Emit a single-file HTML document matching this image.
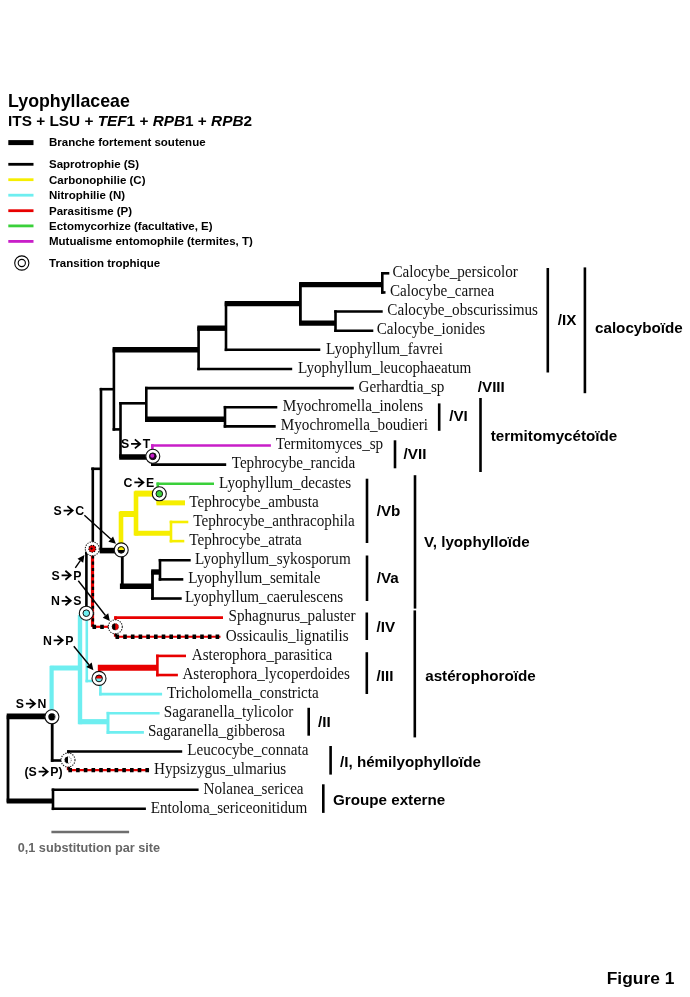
<!DOCTYPE html>
<html><head><meta charset="utf-8"><title>Lyophyllaceae</title>
<style>html,body{margin:0;padding:0;background:#fff;} svg{display:block;}</style></head>
<body><svg style="will-change:transform" width="690" height="997" viewBox="0 0 690 997" shape-rendering="auto">
<rect width="690" height="997" fill="#fff"/>
<line x1="8.3" y1="142.6" x2="33.5" y2="142.6" stroke="#000" stroke-width="5"/>
<line x1="8.3" y1="164.3" x2="33.5" y2="164.3" stroke="#000" stroke-width="2.8"/>
<line x1="8.3" y1="179.7" x2="33.5" y2="179.7" stroke="#f6ee00" stroke-width="2.8"/>
<line x1="8.3" y1="195.2" x2="33.5" y2="195.2" stroke="#6eeef0" stroke-width="2.8"/>
<line x1="8.3" y1="210.7" x2="33.5" y2="210.7" stroke="#e80000" stroke-width="2.8"/>
<line x1="8.3" y1="225.9" x2="33.5" y2="225.9" stroke="#3ad03a" stroke-width="2.8"/>
<line x1="8.3" y1="241.4" x2="33.5" y2="241.4" stroke="#c81ec8" stroke-width="2.8"/>
<circle cx="21.8" cy="263" r="7.1" fill="#fff" stroke="#000" stroke-width="1.1"/>
<circle cx="21.8" cy="263" r="3.6" fill="#fff" stroke="#000" stroke-width="1.1"/>
<line x1="382.3" y1="273.3" x2="382.3" y2="292.43" stroke="#000" stroke-width="2.6" stroke-linecap="square"/>
<line x1="381.0" y1="273.3" x2="389.3" y2="273.3" stroke="#000" stroke-width="2.6"/>
<line x1="381.0" y1="292.43" x2="385.5" y2="292.43" stroke="#000" stroke-width="2.6"/>
<line x1="299.09999999999997" y1="284.6" x2="382.3" y2="284.6" stroke="#000" stroke-width="5.4"/>
<line x1="300.4" y1="284.6" x2="300.4" y2="323.1" stroke="#000" stroke-width="2.8" stroke-linecap="square"/>
<line x1="299.09999999999997" y1="323.1" x2="335.5" y2="323.1" stroke="#000" stroke-width="5.4"/>
<line x1="335.5" y1="311.56" x2="335.5" y2="330.69" stroke="#000" stroke-width="2.6" stroke-linecap="square"/>
<line x1="334.2" y1="311.56" x2="382.7" y2="311.56" stroke="#000" stroke-width="2.6"/>
<line x1="334.2" y1="330.69" x2="373.3" y2="330.69" stroke="#000" stroke-width="2.6"/>
<line x1="224.7" y1="303.6" x2="300.4" y2="303.6" stroke="#000" stroke-width="5.4"/>
<line x1="226" y1="303.6" x2="226" y2="349.82" stroke="#000" stroke-width="2.6" stroke-linecap="square"/>
<line x1="224.7" y1="349.82" x2="320.3" y2="349.82" stroke="#000" stroke-width="2.6"/>
<line x1="197.29999999999998" y1="328.2" x2="226" y2="328.2" stroke="#000" stroke-width="5.4"/>
<line x1="198.6" y1="328.2" x2="198.6" y2="368.95" stroke="#000" stroke-width="2.6" stroke-linecap="square"/>
<line x1="197.29999999999998" y1="368.95" x2="292.2" y2="368.95" stroke="#000" stroke-width="2.6"/>
<line x1="112.60000000000001" y1="349.8" x2="198.6" y2="349.8" stroke="#000" stroke-width="5.4"/>
<line x1="113.9" y1="349.8" x2="113.9" y2="429.4" stroke="#000" stroke-width="2.6" stroke-linecap="square"/>
<line x1="112.60000000000001" y1="429.4" x2="120.5" y2="429.4" stroke="#000" stroke-width="2.6"/>
<line x1="120.5" y1="403.3" x2="120.5" y2="456.7" stroke="#000" stroke-width="2.6" stroke-linecap="square"/>
<line x1="119.2" y1="403.3" x2="146.3" y2="403.3" stroke="#000" stroke-width="2.6"/>
<line x1="146.3" y1="388.08" x2="146.3" y2="419.2" stroke="#000" stroke-width="2.6" stroke-linecap="square"/>
<line x1="145.0" y1="388.08" x2="353.8" y2="388.08" stroke="#000" stroke-width="2.6"/>
<line x1="145.0" y1="419.2" x2="225" y2="419.2" stroke="#000" stroke-width="5.4"/>
<line x1="225" y1="407.21" x2="225" y2="426.34" stroke="#000" stroke-width="2.6" stroke-linecap="square"/>
<line x1="223.7" y1="407.21" x2="277.3" y2="407.21" stroke="#000" stroke-width="2.6"/>
<line x1="223.7" y1="426.34" x2="275.7" y2="426.34" stroke="#000" stroke-width="2.6"/>
<line x1="119.2" y1="457" x2="152.4" y2="457" stroke="#000" stroke-width="5.4"/>
<line x1="152.4" y1="445.47" x2="152.4" y2="456" stroke="#c81ec8" stroke-width="2.6" stroke-linecap="square"/>
<line x1="152.4" y1="456" x2="152.4" y2="464.6" stroke="#000" stroke-width="2.6" stroke-linecap="square"/>
<line x1="151.1" y1="445.47" x2="270.9" y2="445.47" stroke="#c81ec8" stroke-width="2.6"/>
<line x1="151.1" y1="464.6" x2="226.2" y2="464.6" stroke="#000" stroke-width="2.6"/>
<line x1="99.7" y1="389.2" x2="113.9" y2="389.2" stroke="#000" stroke-width="2.6"/>
<line x1="101" y1="389.2" x2="101" y2="550.6" stroke="#000" stroke-width="2.6" stroke-linecap="square"/>
<line x1="99.7" y1="550.6" x2="121.2" y2="550.6" stroke="#000" stroke-width="5.6"/>
<line x1="121" y1="514" x2="121" y2="550" stroke="#f6ee00" stroke-width="4.6" stroke-linecap="square"/>
<line x1="119.7" y1="514" x2="136" y2="514" stroke="#f6ee00" stroke-width="6"/>
<line x1="136" y1="493.6" x2="136" y2="533.2" stroke="#f6ee00" stroke-width="4.6" stroke-linecap="square"/>
<line x1="134.7" y1="493.6" x2="159.3" y2="493.6" stroke="#f6ee00" stroke-width="6"/>
<line x1="134.7" y1="533.2" x2="171" y2="533.2" stroke="#f6ee00" stroke-width="5"/>
<line x1="171" y1="521.99" x2="171" y2="541.12" stroke="#f6ee00" stroke-width="2.6" stroke-linecap="square"/>
<line x1="169.7" y1="521.99" x2="188.3" y2="521.99" stroke="#f6ee00" stroke-width="2.6"/>
<line x1="169.7" y1="541.12" x2="184.3" y2="541.12" stroke="#f6ee00" stroke-width="2.6"/>
<line x1="157.8" y1="483.73" x2="157.8" y2="494" stroke="#3ad03a" stroke-width="2.6" stroke-linecap="square"/>
<line x1="156.5" y1="483.73" x2="214" y2="483.73" stroke="#3ad03a" stroke-width="2.6"/>
<line x1="157.8" y1="494" x2="157.8" y2="502.86" stroke="#f6ee00" stroke-width="2.6" stroke-linecap="square"/>
<line x1="156.5" y1="502.86" x2="185" y2="502.86" stroke="#f6ee00" stroke-width="5"/>
<line x1="122.3" y1="550" x2="122.3" y2="586.2" stroke="#000" stroke-width="2.8" stroke-linecap="square"/>
<line x1="119.9" y1="586.2" x2="152.5" y2="586.2" stroke="#000" stroke-width="5.4"/>
<line x1="152.5" y1="572" x2="152.5" y2="598.51" stroke="#000" stroke-width="2.8" stroke-linecap="square"/>
<line x1="151.2" y1="572" x2="160" y2="572" stroke="#000" stroke-width="5.4"/>
<line x1="160" y1="560.25" x2="160" y2="579.38" stroke="#000" stroke-width="2.6" stroke-linecap="square"/>
<line x1="158.7" y1="560.25" x2="190.7" y2="560.25" stroke="#000" stroke-width="2.6"/>
<line x1="158.7" y1="579.38" x2="183.3" y2="579.38" stroke="#000" stroke-width="2.6"/>
<line x1="151.2" y1="598.51" x2="181.7" y2="598.51" stroke="#000" stroke-width="2.6"/>
<line x1="91.2" y1="468.8" x2="101" y2="468.8" stroke="#000" stroke-width="2.6"/>
<line x1="92.8" y1="468.8" x2="92.8" y2="549" stroke="#000" stroke-width="2.6" stroke-linecap="square"/>
<line x1="92.5" y1="549" x2="92.5" y2="626.8" stroke="#e80000" stroke-width="3.2"/>
<line x1="92.9" y1="549" x2="92.9" y2="626.8" stroke="#000" stroke-width="2.4" stroke-dasharray="3.1 3.2"/>
<line x1="92.5" y1="626.8" x2="115.7" y2="626.8" stroke="#e80000" stroke-width="2.2"/>
<line x1="92.5" y1="626.8" x2="115.7" y2="626.8" stroke="#000" stroke-width="4.3" stroke-dasharray="3.6 4.1"/>
<line x1="115.5" y1="617.64" x2="115.5" y2="626.8" stroke="#e80000" stroke-width="2.6" stroke-linecap="square"/>
<line x1="115.5" y1="626.8" x2="115.5" y2="636.77" stroke="#e80000" stroke-width="3.2"/>
<line x1="115.9" y1="626.8" x2="115.9" y2="636.77" stroke="#000" stroke-width="2.4" stroke-dasharray="3.1 3.2"/>
<line x1="114.2" y1="617.64" x2="223" y2="617.64" stroke="#e80000" stroke-width="2.6"/>
<line x1="115.5" y1="636.77" x2="220.5" y2="636.77" stroke="#e80000" stroke-width="2.2"/>
<line x1="115.5" y1="636.77" x2="220.5" y2="636.77" stroke="#000" stroke-width="4.3" stroke-dasharray="3.6 4.1"/>
<line x1="85.10000000000001" y1="553" x2="92.5" y2="553" stroke="#000" stroke-width="2.6"/>
<line x1="86.4" y1="553" x2="86.4" y2="613" stroke="#000" stroke-width="2.6" stroke-linecap="square"/>
<line x1="86.8" y1="613" x2="86.8" y2="681" stroke="#6eeef0" stroke-width="2.6" stroke-linecap="square"/>
<line x1="85.5" y1="681" x2="98.7" y2="681" stroke="#6eeef0" stroke-width="2.6"/>
<line x1="99.4" y1="667.8" x2="99.4" y2="680" stroke="#e80000" stroke-width="2.6" stroke-linecap="square"/>
<line x1="100.4" y1="680" x2="100.4" y2="694.16" stroke="#6eeef0" stroke-width="2.6" stroke-linecap="square"/>
<line x1="97.8" y1="667.8" x2="157.4" y2="667.8" stroke="#e80000" stroke-width="6"/>
<line x1="157.4" y1="655.9" x2="157.4" y2="675.03" stroke="#e80000" stroke-width="2.6" stroke-linecap="square"/>
<line x1="156.1" y1="655.9" x2="186" y2="655.9" stroke="#e80000" stroke-width="2.6"/>
<line x1="156.1" y1="675.03" x2="177.9" y2="675.03" stroke="#e80000" stroke-width="2.6"/>
<line x1="99.10000000000001" y1="694.16" x2="162.1" y2="694.16" stroke="#6eeef0" stroke-width="2.6"/>
<line x1="80" y1="617" x2="80" y2="722" stroke="#6eeef0" stroke-width="4.4" stroke-linecap="square"/>
<line x1="78.7" y1="721.7" x2="108" y2="721.7" stroke="#6eeef0" stroke-width="5.2"/>
<line x1="108" y1="713.29" x2="108" y2="732.42" stroke="#6eeef0" stroke-width="3" stroke-linecap="square"/>
<line x1="106.7" y1="713.29" x2="159.6" y2="713.29" stroke="#6eeef0" stroke-width="2.6"/>
<line x1="106.7" y1="732.42" x2="143.9" y2="732.42" stroke="#6eeef0" stroke-width="2.6"/>
<line x1="50.2" y1="668" x2="80" y2="668" stroke="#6eeef0" stroke-width="5"/>
<line x1="51.6" y1="668" x2="51.6" y2="717" stroke="#6eeef0" stroke-width="4.2" stroke-linecap="square"/>
<line x1="52.2" y1="717" x2="52.2" y2="760.5" stroke="#000" stroke-width="2.8" stroke-linecap="square"/>
<line x1="50.900000000000006" y1="760.5" x2="68.4" y2="760.5" stroke="#000" stroke-width="2.6"/>
<line x1="68.4" y1="751.55" x2="68.4" y2="760.5" stroke="#000" stroke-width="2.6" stroke-linecap="square"/>
<line x1="68.4" y1="760.5" x2="68.4" y2="770.2" stroke="#e80000" stroke-width="3.2"/>
<line x1="68.80000000000001" y1="760.5" x2="68.80000000000001" y2="770.2" stroke="#000" stroke-width="2.4" stroke-dasharray="3.1 3.2"/>
<line x1="67.10000000000001" y1="751.55" x2="182.2" y2="751.55" stroke="#000" stroke-width="2.6"/>
<line x1="68.4" y1="770.2" x2="149.1" y2="770.2" stroke="#e80000" stroke-width="2.2"/>
<line x1="68.4" y1="770.2" x2="149.1" y2="770.2" stroke="#000" stroke-width="4.3" stroke-dasharray="3.6 4.1"/>
<line x1="8" y1="716.7" x2="8" y2="801" stroke="#000" stroke-width="2.8" stroke-linecap="square"/>
<line x1="6.7" y1="716.4" x2="51.9" y2="716.4" stroke="#000" stroke-width="5.9"/>
<line x1="6.7" y1="801" x2="53" y2="801" stroke="#000" stroke-width="5.2"/>
<line x1="53" y1="789.81" x2="53" y2="808.8" stroke="#000" stroke-width="2.6" stroke-linecap="square"/>
<line x1="51.7" y1="789.81" x2="198.6" y2="789.81" stroke="#000" stroke-width="2.6"/>
<line x1="51.7" y1="808.8" x2="145.9" y2="808.8" stroke="#000" stroke-width="2.6"/>
<line x1="51.4" y1="832" x2="129.1" y2="832" stroke="#6e6e6e" stroke-width="2.6"/>
<circle cx="152.8" cy="456.3" r="7.0" fill="#fff" stroke="#111" stroke-width="1.1"/>
<circle cx="152.8" cy="456.3" r="3.4" fill="#2a0030" stroke="#111" stroke-width="1"/><circle cx="152.3" cy="455.7" r="2.0" fill="#c81ec8"/>
<circle cx="121.2" cy="549.9" r="7.0" fill="#fff" stroke="#111" stroke-width="1.1"/>
<circle cx="121.2" cy="549.9" r="3.3" fill="#000"/><path d="M117.9,549.9 A3.3,3.3 0 0 1 124.5,549.9 Z" fill="#f6ee00"/><circle cx="121.2" cy="549.9" r="3.3" fill="none" stroke="#111" stroke-width="1.0"/>
<circle cx="159.3" cy="493.8" r="7.0" fill="#fff" stroke="#111" stroke-width="1.1"/>
<circle cx="159.3" cy="493.8" r="3.3" fill="#3ad03a"/><path d="M156.0,493.8 A3.3,3.3 0 0 1 162.60000000000002,493.8 Z" fill="#3ad03a"/><circle cx="159.3" cy="493.8" r="3.3" fill="none" stroke="#111" stroke-width="1.0"/>
<circle cx="86.3" cy="613.2" r="7.0" fill="#fff" stroke="#111" stroke-width="1.1"/>
<circle cx="86.3" cy="613.2" r="3.3" fill="#6eeef0"/><path d="M83.0,613.2 A3.3,3.3 0 0 1 89.6,613.2 Z" fill="#6eeef0"/><circle cx="86.3" cy="613.2" r="3.3" fill="none" stroke="#111" stroke-width="1.0"/>
<circle cx="99" cy="678.4" r="7.0" fill="#fff" stroke="#111" stroke-width="1.1"/>
<circle cx="99" cy="678.4" r="3.4" fill="#6eeef0"/><path d="M95.6,678.4 A3.4,3.4 0 0 1 102.4,678.4 Z" fill="#e80000"/><circle cx="99" cy="678.4" r="3.4" fill="none" stroke="#111" stroke-width="1.0"/>
<circle cx="51.9" cy="716.8" r="7.0" fill="#fff" stroke="#111" stroke-width="1.1"/>
<circle cx="51.9" cy="716.8" r="3.6" fill="#000"/><path d="M53.9,714.3 A2.9,2.9 0 0 1 53.9,719.3 A3.8,3.8 0 0 0 53.9,714.3 Z" fill="#fff"/>
<circle cx="92.3" cy="548.8" r="7.0" fill="#fff" stroke="#222" stroke-width="1.1" stroke-dasharray="1.3 1.2"/>
<circle cx="92.3" cy="548.8" r="3.5" fill="#e80000" stroke="#000" stroke-width="1.1" stroke-dasharray="1.2 1.2"/><circle cx="91.6" cy="548.6" r="1.1" fill="#000"/>
<circle cx="115.3" cy="626.8" r="7.0" fill="#fff" stroke="#222" stroke-width="1.1" stroke-dasharray="1.3 1.2"/>
<circle cx="115.3" cy="626.8" r="3.3" fill="#e80000"/><path d="M115.3,623.5 A3.3,3.3 0 0 0 115.3,630.0999999999999 Z" fill="#000"/><circle cx="115.3" cy="626.8" r="3.3" fill="none" stroke="#333" stroke-width="0.7" stroke-dasharray="1 1"/>
<circle cx="68" cy="760" r="7.0" fill="#fff" stroke="#222" stroke-width="1.1" stroke-dasharray="1.3 1.2"/>
<circle cx="68" cy="760" r="3.3" fill="#fff"/><path d="M68,756.7 A3.3,3.3 0 0 0 68,763.3 Z" fill="#000"/><circle cx="68" cy="760" r="3.3" fill="none" stroke="#333" stroke-width="0.7" stroke-dasharray="1 1"/>
<line x1="84.4" y1="515.2" x2="110.72" y2="539.09" stroke="#000" stroke-width="1.4"/>
<polygon points="115.9,543.8 108.36,541.69 113.07,536.50" fill="#000"/>
<line x1="75.3" y1="567.8" x2="80.34" y2="560.71" stroke="#000" stroke-width="1.4"/>
<polygon points="84.4,555 83.20,562.73 77.49,558.68" fill="#000"/>
<line x1="78.3" y1="580.8" x2="105.48" y2="615.49" stroke="#000" stroke-width="1.4"/>
<polygon points="109.8,621 102.73,617.65 108.24,613.33" fill="#000"/>
<line x1="73.8" y1="646.2" x2="88.97" y2="664.78" stroke="#000" stroke-width="1.4"/>
<polygon points="93.4,670.2 86.26,666.99 91.68,662.56" fill="#000"/>
<path d="M131.08,443.95 H139.88 M134.88,439.45 L140.18,443.95 L134.88,448.45" fill="none" stroke="#000" stroke-width="1.75" stroke-linejoin="miter" stroke-miterlimit="8"/>
<path d="M134.36,482.45 H143.16 M138.16,477.95 L143.46,482.45 L138.16,486.95" fill="none" stroke="#000" stroke-width="1.75" stroke-linejoin="miter" stroke-miterlimit="8"/>
<path d="M63.58,510.55 H72.38 M67.38,506.05 L72.68,510.55 L67.38,515.05" fill="none" stroke="#000" stroke-width="1.75" stroke-linejoin="miter" stroke-miterlimit="8"/>
<path d="M61.58,575.25 H70.38 M65.38,570.75 L70.68,575.25 L65.38,579.75" fill="none" stroke="#000" stroke-width="1.75" stroke-linejoin="miter" stroke-miterlimit="8"/>
<path d="M61.66,600.75 H70.46 M65.46,596.25 L70.76,600.75 L65.46,605.25" fill="none" stroke="#000" stroke-width="1.75" stroke-linejoin="miter" stroke-miterlimit="8"/>
<path d="M53.66,640.35 H62.46 M57.46,635.85 L62.76,640.35 L57.46,644.85" fill="none" stroke="#000" stroke-width="1.75" stroke-linejoin="miter" stroke-miterlimit="8"/>
<path d="M25.88,703.65 H34.68 M29.68,699.15 L34.98,703.65 L29.68,708.15" fill="none" stroke="#000" stroke-width="1.75" stroke-linejoin="miter" stroke-miterlimit="8"/>
<path d="M38.60,771.65 H47.40 M42.40,767.15 L47.70,771.65 L42.40,776.15" fill="none" stroke="#000" stroke-width="1.75" stroke-linejoin="miter" stroke-miterlimit="8"/>
<line x1="547.8" y1="268" x2="547.8" y2="372.5" stroke="#000" stroke-width="2.6" stroke-linecap="butt"/>
<line x1="584.9" y1="267.4" x2="584.9" y2="393.2" stroke="#000" stroke-width="2.6" stroke-linecap="butt"/>
<line x1="439.2" y1="403.4" x2="439.2" y2="430.8" stroke="#000" stroke-width="2.6" stroke-linecap="butt"/>
<line x1="395" y1="440.3" x2="395" y2="468.3" stroke="#000" stroke-width="2.6" stroke-linecap="butt"/>
<line x1="480.5" y1="398" x2="480.5" y2="472" stroke="#000" stroke-width="2.6" stroke-linecap="butt"/>
<line x1="367" y1="478.7" x2="367" y2="543" stroke="#000" stroke-width="2.6" stroke-linecap="butt"/>
<line x1="367" y1="555.5" x2="367" y2="601" stroke="#000" stroke-width="2.6" stroke-linecap="butt"/>
<line x1="415" y1="475.2" x2="415" y2="608.6" stroke="#000" stroke-width="2.6" stroke-linecap="butt"/>
<line x1="366.8" y1="612.5" x2="366.8" y2="640" stroke="#000" stroke-width="2.6" stroke-linecap="butt"/>
<line x1="366.8" y1="652.2" x2="366.8" y2="694" stroke="#000" stroke-width="2.6" stroke-linecap="butt"/>
<line x1="414.8" y1="610.4" x2="414.8" y2="737.4" stroke="#000" stroke-width="2.6" stroke-linecap="butt"/>
<line x1="308.7" y1="707.8" x2="308.7" y2="735.7" stroke="#000" stroke-width="2.6" stroke-linecap="butt"/>
<line x1="330.6" y1="746" x2="330.6" y2="774.6" stroke="#000" stroke-width="2.6" stroke-linecap="butt"/>
<line x1="323.3" y1="784.3" x2="323.3" y2="812.9" stroke="#000" stroke-width="2.6" stroke-linecap="butt"/>
<text x="8.10" y="106.8" font-family='"Liberation Sans", sans-serif' font-weight="bold" font-size="17.75" fill="#000" >Lyophyllaceae</text>
<text x="8.1" y="125.6" font-family='"Liberation Sans", sans-serif' font-weight="bold" font-size="15.35" fill="#000">ITS + LSU + <tspan font-style="italic">TEF</tspan>1 + <tspan font-style="italic">RPB</tspan>1 + <tspan font-style="italic">RPB</tspan>2</text>
<text x="49.00" y="146.2" font-family='"Liberation Sans", sans-serif' font-weight="bold" font-size="11.5" fill="#000" >Branche fortement soutenue</text>
<text x="49.00" y="168.3" font-family='"Liberation Sans", sans-serif' font-weight="bold" font-size="11.5" fill="#000" >Saprotrophie (S)</text>
<text x="49.00" y="183.8" font-family='"Liberation Sans", sans-serif' font-weight="bold" font-size="11.5" fill="#000" >Carbonophilie (C)</text>
<text x="49.00" y="199.4" font-family='"Liberation Sans", sans-serif' font-weight="bold" font-size="11.5" fill="#000" >Nitrophilie (N)</text>
<text x="49.00" y="214.6" font-family='"Liberation Sans", sans-serif' font-weight="bold" font-size="11.5" fill="#000" >Parasitisme (P)</text>
<text x="49.00" y="230" font-family='"Liberation Sans", sans-serif' font-weight="bold" font-size="11.5" fill="#000" >Ectomycorhize (facultative, E)</text>
<text x="49.00" y="245.2" font-family='"Liberation Sans", sans-serif' font-weight="bold" font-size="11.5" fill="#000" >Mutualisme entomophile (termites, T)</text>
<text x="49.00" y="266.5" font-family='"Liberation Sans", sans-serif' font-weight="bold" font-size="11.5" fill="#000" >Transition trophique</text>
<text x="121.00" y="448.4" font-family='"Liberation Sans", sans-serif' font-weight="bold" font-size="12.3" fill="#000" >S</text>
<text x="142.78" y="448.4" font-family='"Liberation Sans", sans-serif' font-weight="bold" font-size="12.3" fill="#000" >T</text>
<text x="123.60" y="486.9" font-family='"Liberation Sans", sans-serif' font-weight="bold" font-size="12.3" fill="#000" >C</text>
<text x="146.06" y="486.9" font-family='"Liberation Sans", sans-serif' font-weight="bold" font-size="12.3" fill="#000" >E</text>
<text x="53.50" y="515.0" font-family='"Liberation Sans", sans-serif' font-weight="bold" font-size="12.3" fill="#000" >S</text>
<text x="75.28" y="515.0" font-family='"Liberation Sans", sans-serif' font-weight="bold" font-size="12.3" fill="#000" >C</text>
<text x="51.50" y="579.6999999999999" font-family='"Liberation Sans", sans-serif' font-weight="bold" font-size="12.3" fill="#000" >S</text>
<text x="73.28" y="579.6999999999999" font-family='"Liberation Sans", sans-serif' font-weight="bold" font-size="12.3" fill="#000" >P</text>
<text x="50.90" y="605.1999999999999" font-family='"Liberation Sans", sans-serif' font-weight="bold" font-size="12.3" fill="#000" >N</text>
<text x="73.36" y="605.1999999999999" font-family='"Liberation Sans", sans-serif' font-weight="bold" font-size="12.3" fill="#000" >S</text>
<text x="42.90" y="644.8" font-family='"Liberation Sans", sans-serif' font-weight="bold" font-size="12.3" fill="#000" >N</text>
<text x="65.36" y="644.8" font-family='"Liberation Sans", sans-serif' font-weight="bold" font-size="12.3" fill="#000" >P</text>
<text x="15.80" y="708.1" font-family='"Liberation Sans", sans-serif' font-weight="bold" font-size="12.3" fill="#000" >S</text>
<text x="37.58" y="708.1" font-family='"Liberation Sans", sans-serif' font-weight="bold" font-size="12.3" fill="#000" >N</text>
<text x="24.40" y="776.1" font-family='"Liberation Sans", sans-serif' font-weight="bold" font-size="12.3" fill="#000" >(S</text>
<text x="50.30" y="776.1" font-family='"Liberation Sans", sans-serif' font-weight="bold" font-size="12.3" fill="#000" >P)</text>
<text transform="translate(392.50,277.10) scale(0.96,1)" font-family='"Liberation Serif", serif' font-size="15.8" fill="#111">Calocybe_persicolor</text>
<text transform="translate(390.00,296.23) scale(0.96,1)" font-family='"Liberation Serif", serif' font-size="15.8" fill="#111">Calocybe_carnea</text>
<text transform="translate(387.30,315.36) scale(0.96,1)" font-family='"Liberation Serif", serif' font-size="15.8" fill="#111">Calocybe_obscurissimus</text>
<text transform="translate(376.70,334.49) scale(0.96,1)" font-family='"Liberation Serif", serif' font-size="15.8" fill="#111">Calocybe_ionides</text>
<text transform="translate(326.00,353.62) scale(0.96,1)" font-family='"Liberation Serif", serif' font-size="15.8" fill="#111">Lyophyllum_favrei</text>
<text transform="translate(298.00,372.75) scale(0.96,1)" font-family='"Liberation Serif", serif' font-size="15.8" fill="#111">Lyophyllum_leucophaeatum</text>
<text transform="translate(358.60,391.88) scale(0.96,1)" font-family='"Liberation Serif", serif' font-size="15.8" fill="#111">Gerhardtia_sp</text>
<text transform="translate(282.70,411.01) scale(0.96,1)" font-family='"Liberation Serif", serif' font-size="15.8" fill="#111">Myochromella_inolens</text>
<text transform="translate(280.80,430.14) scale(0.96,1)" font-family='"Liberation Serif", serif' font-size="15.8" fill="#111">Myochromella_boudieri</text>
<text transform="translate(275.70,449.27) scale(0.96,1)" font-family='"Liberation Serif", serif' font-size="15.8" fill="#111">Termitomyces_sp</text>
<text transform="translate(231.70,468.40) scale(0.96,1)" font-family='"Liberation Serif", serif' font-size="15.8" fill="#111">Tephrocybe_rancida</text>
<text transform="translate(219.00,487.53) scale(0.96,1)" font-family='"Liberation Serif", serif' font-size="15.8" fill="#111">Lyophyllum_decastes</text>
<text transform="translate(189.30,506.66) scale(0.96,1)" font-family='"Liberation Serif", serif' font-size="15.8" fill="#111">Tephrocybe_ambusta</text>
<text transform="translate(193.30,525.79) scale(0.96,1)" font-family='"Liberation Serif", serif' font-size="15.8" fill="#111">Tephrocybe_anthracophila</text>
<text transform="translate(189.30,544.92) scale(0.96,1)" font-family='"Liberation Serif", serif' font-size="15.8" fill="#111">Tephrocybe_atrata</text>
<text transform="translate(195.00,564.05) scale(0.96,1)" font-family='"Liberation Serif", serif' font-size="15.8" fill="#111">Lyophyllum_sykosporum</text>
<text transform="translate(188.30,583.18) scale(0.96,1)" font-family='"Liberation Serif", serif' font-size="15.8" fill="#111">Lyophyllum_semitale</text>
<text transform="translate(185.00,602.31) scale(0.96,1)" font-family='"Liberation Serif", serif' font-size="15.8" fill="#111">Lyophyllum_caerulescens</text>
<text transform="translate(228.50,621.44) scale(0.96,1)" font-family='"Liberation Serif", serif' font-size="15.8" fill="#111">Sphagnurus_paluster</text>
<text transform="translate(225.80,640.57) scale(0.96,1)" font-family='"Liberation Serif", serif' font-size="15.8" fill="#111">Ossicaulis_lignatilis</text>
<text transform="translate(191.70,659.70) scale(0.96,1)" font-family='"Liberation Serif", serif' font-size="15.8" fill="#111">Asterophora_parasitica</text>
<text transform="translate(182.40,678.83) scale(0.96,1)" font-family='"Liberation Serif", serif' font-size="15.8" fill="#111">Asterophora_lycoperdoides</text>
<text transform="translate(167.00,697.96) scale(0.96,1)" font-family='"Liberation Serif", serif' font-size="15.8" fill="#111">Tricholomella_constricta</text>
<text transform="translate(163.70,717.09) scale(0.96,1)" font-family='"Liberation Serif", serif' font-size="15.8" fill="#111">Sagaranella_tylicolor</text>
<text transform="translate(147.90,736.22) scale(0.96,1)" font-family='"Liberation Serif", serif' font-size="15.8" fill="#111">Sagaranella_gibberosa</text>
<text transform="translate(187.30,755.35) scale(0.96,1)" font-family='"Liberation Serif", serif' font-size="15.8" fill="#111">Leucocybe_connata</text>
<text transform="translate(154.00,774.48) scale(0.96,1)" font-family='"Liberation Serif", serif' font-size="15.8" fill="#111">Hypsizygus_ulmarius</text>
<text transform="translate(203.50,793.61) scale(0.96,1)" font-family='"Liberation Serif", serif' font-size="15.8" fill="#111">Nolanea_sericea</text>
<text transform="translate(150.70,812.74) scale(0.96,1)" font-family='"Liberation Serif", serif' font-size="15.8" fill="#111">Entoloma_sericeonitidum</text>
<text x="557.80" y="325.4" font-family='"Liberation Sans", sans-serif' font-weight="bold" font-size="15.2" fill="#000" >/IX</text>
<text x="595.00" y="333.4" font-family='"Liberation Sans", sans-serif' font-weight="bold" font-size="15.2" fill="#000" >calocyboïde</text>
<text x="477.80" y="392.3" font-family='"Liberation Sans", sans-serif' font-weight="bold" font-size="15.2" fill="#000" >/VIII</text>
<text x="449.20" y="421" font-family='"Liberation Sans", sans-serif' font-weight="bold" font-size="15.2" fill="#000" >/VI</text>
<text x="490.70" y="441.3" font-family='"Liberation Sans", sans-serif' font-weight="bold" font-size="15.2" fill="#000" >termitomycétoïde</text>
<text x="403.60" y="459.2" font-family='"Liberation Sans", sans-serif' font-weight="bold" font-size="15.2" fill="#000" >/VII</text>
<text x="376.70" y="516.4" font-family='"Liberation Sans", sans-serif' font-weight="bold" font-size="15.2" fill="#000" >/Vb</text>
<text x="424.00" y="546.8" font-family='"Liberation Sans", sans-serif' font-weight="bold" font-size="15.2" fill="#000" >V, lyophylloïde</text>
<text x="376.70" y="583" font-family='"Liberation Sans", sans-serif' font-weight="bold" font-size="15.2" fill="#000" >/Va</text>
<text x="376.50" y="632" font-family='"Liberation Sans", sans-serif' font-weight="bold" font-size="15.2" fill="#000" >/IV</text>
<text x="376.50" y="680.7" font-family='"Liberation Sans", sans-serif' font-weight="bold" font-size="15.2" fill="#000" >/III</text>
<text x="425.20" y="680.7" font-family='"Liberation Sans", sans-serif' font-weight="bold" font-size="15.2" fill="#000" >astérophoroïde</text>
<text x="318.10" y="727" font-family='"Liberation Sans", sans-serif' font-weight="bold" font-size="15.2" fill="#000" >/II</text>
<text x="340.00" y="767" font-family='"Liberation Sans", sans-serif' font-weight="bold" font-size="15.2" fill="#000" >/I, hémilyophylloïde</text>
<text x="333.00" y="805.2" font-family='"Liberation Sans", sans-serif' font-weight="bold" font-size="15.2" fill="#000" >Groupe externe</text>
<text x="17.70" y="851.5" font-family='"Liberation Sans", sans-serif' font-weight="bold" font-size="12.7" fill="#666" >0,1 substitution par site</text>
<text x="606.70" y="984.2" font-family='"Liberation Sans", sans-serif' font-weight="bold" font-size="17.4" fill="#000" >Figure 1</text>
</svg></body></html>
